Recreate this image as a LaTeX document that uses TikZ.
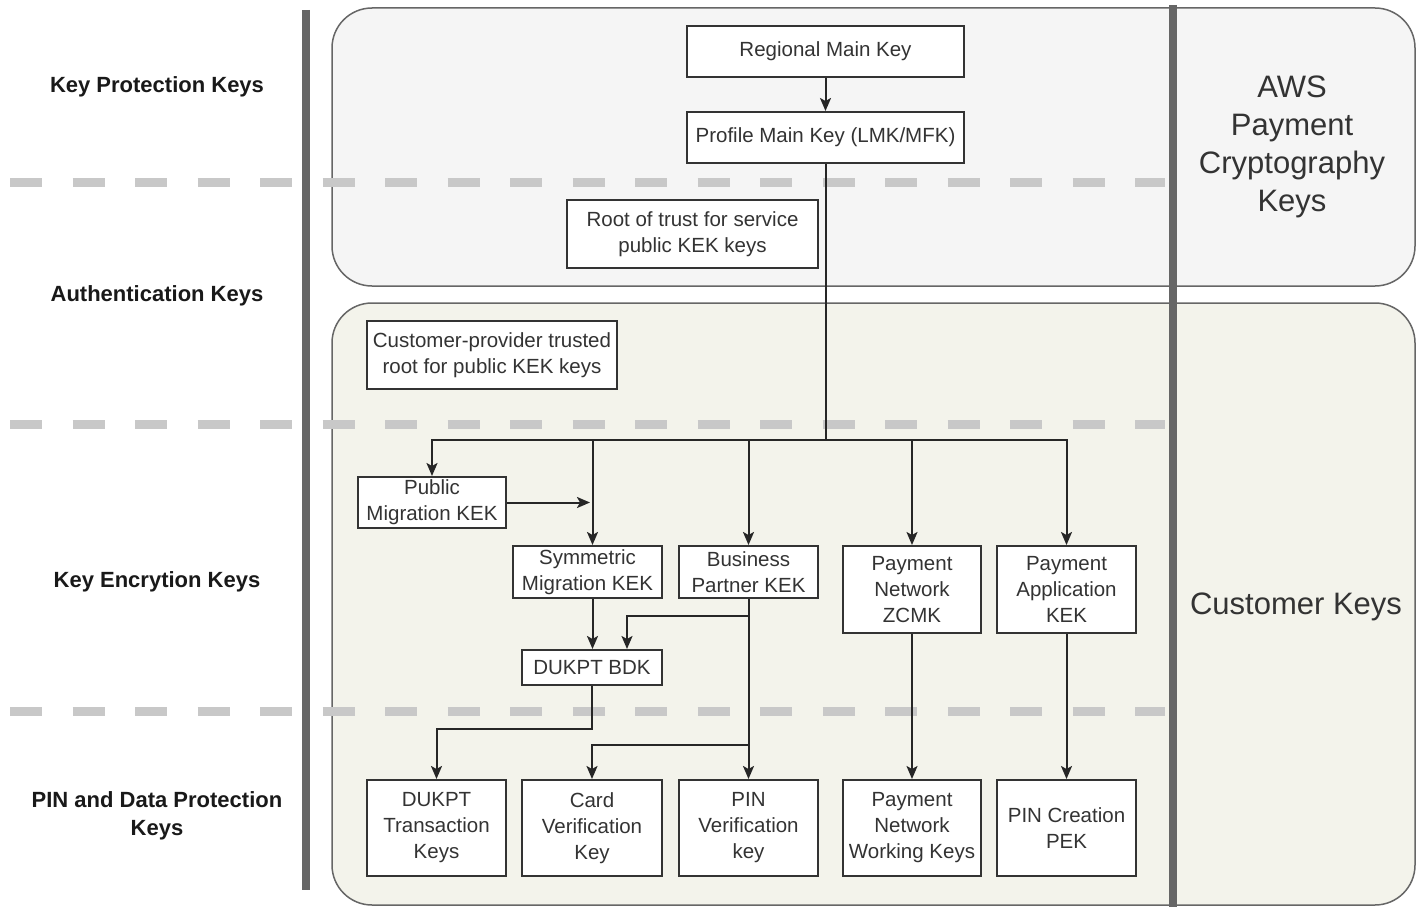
\documentclass[tikz,border=0pt]{standalone}
\usepackage{fontspec}
\setmainfont{Liberation Sans}
\usepackage{xcolor}
\usetikzlibrary{positioning,arrows.meta}
\definecolor{awsfill}{HTML}{F5F5F5}
\definecolor{custfill}{HTML}{F3F3EB}
\definecolor{barcol}{HTML}{666666}
\definecolor{dashcol}{HTML}{C8C8C8}
\definecolor{inkcol}{HTML}{333333}
\tikzset{
    keybox/.style={
        rectangle,
        draw=inkcol,
        fill=white,
        line width=2pt,
        text=inkcol,
        align=center,
        inner sep=1pt,
        font=\fontsize{20.5}{26}\selectfont
    },
    layer/.style={
        text=black!90,
        align=center,
        font=\bfseries\fontsize{22}{28}\selectfont
    },
    zone/.style={
        text=inkcol,
        align=center,
        font=\fontsize{31}{38}\selectfont
    },
    arrow/.style={
        -{Stealth[length=13pt,width=11pt,inset=3pt]},
        line width=2pt,
        draw=black!85
    },
    link/.style={
        line width=2pt,
        draw=black!85
    },
    divider/.style={dashcol, line width=9pt, dash pattern=on 32pt off 30.5pt},
    rail/.style={barcol, line width=8pt}
}

\begin{document}
\begin{tikzpicture}[x=1pt,y=-1pt]
          \useasboundingbox (0,0) rectangle (1425,907);
          % containers
          \draw [fill=awsfill, draw=barcol, line width=1.5pt, rounded corners=40pt] (332,8) rectangle (1415,286);
          \draw [fill=custfill, draw=barcol, line width=1.5pt, rounded corners=40pt] (332,303) rectangle (1415,905);
          \foreach \y in {182,424,711}
            \draw [divider] (10,\y) -- (1165,\y);
          \draw [rail] (306,10) -- (306,890);
          \draw [rail] (1173,5) -- (1173,907);

          % layer names
          \node (kpk) [layer] at (157,87) {Key Protection Keys};
          \node (authk) [layer] at (157,296) {Authentication Keys};
          \node (kek) [layer] at (157,582) {Key Encrytion Keys};
          \node (pdpk) [layer] at (157,816) {PIN and Data Protection\\Keys};
          \node (awskeys) [zone] at (1292,147) {AWS\\Payment\\Cryptography\\Keys};
          \node (custkeys) [zone] at (1296,607) {Customer Keys};

          % keys
          \node (regional) [keybox, minimum width=277, minimum height=51] at (825.5,51.5) {Regional Main Key};
          \node (profile) [keybox, minimum width=277, minimum height=51] at (825.5,137.5) {Profile Main Key (LMK/MFK)};
          \node (roottrust) [keybox, minimum width=251, minimum height=68] at (692.5,234) {Root of trust for service\\public KEK keys};
          \node (custroot) [keybox, minimum width=250, minimum height=68] at (492,355) {Customer-provider trusted\\root for public KEK keys};
          \node (pubmig) [keybox, minimum width=148, minimum height=51] at (432,502.5) {Public\\Migration KEK};
          \node (symmig) [keybox, minimum width=149, minimum height=52] at (587.5,572) {Symmetric\\Migration KEK};
          \node (bizpart) [keybox, minimum width=139, minimum height=52] at (748.5,572) {Business\\Partner KEK};
          \node (zcmk) [keybox, minimum width=138, minimum height=87] at (912,589.5) {Payment\\Network\\ZCMK};
          \node (appkek) [keybox, minimum width=139, minimum height=87] at (1066.5,589.5) {Payment\\Application\\KEK};
          \node (bdk) [keybox, minimum width=140, minimum height=35] at (592,667.5) {DUKPT BDK};
          \node (dukptx) [keybox, minimum width=139, minimum height=96] at (436.5,828) {DUKPT\\Transaction\\Keys};
          \node (cardver) [keybox, minimum width=140, minimum height=96] at (592,828) {Card\\Verification\\Key};
          \node (pinver) [keybox, minimum width=139, minimum height=96] at (748.5,828) {PIN\\Verification\\key};
          \node (netwk) [keybox, minimum width=138, minimum height=96] at (912,828) {Payment\\Network\\Working Keys};
          \node (pinpek) [keybox, minimum width=139, minimum height=96] at (1066.5,828) {PIN Creation\\PEK};

          % connectors
          \coordinate (bus) at (825.5,440);
          \coordinate (pubend) at (590,502.5);
          \coordinate (cvjoin) at (748.5,745);
          \draw [arrow] (regional) -- (profile);
          \draw [link] (profile) -- (bus);
          \draw [arrow] (bus) -| (pubmig);
          \draw [arrow] (bus) -| ([xshift=5pt]symmig.north);
          \draw [arrow] (bus) -| (bizpart);
          \draw [arrow] (bus) -| (zcmk);
          \draw [arrow] (bus) -| (appkek);
          \draw [arrow] (pubmig) -- (pubend);
          \draw [arrow] ([xshift=5pt]symmig.south) -- ([xshift=5pt]symmig.south |- bdk.north);
          \draw [arrow] (bizpart.south) -- ++(0,17) -| ([xshift=35pt]bdk.north);
          \draw [arrow] (bizpart) -- (pinver);
          \draw [arrow] (cvjoin) -| (cardver);
          \draw [arrow] (bdk.south) -- ++(0,43) -| (dukptx);
          \draw [arrow] (zcmk) -- (netwk);
          \draw [arrow] (appkek) -- (pinpek);
        \end{tikzpicture}
\end{document}
